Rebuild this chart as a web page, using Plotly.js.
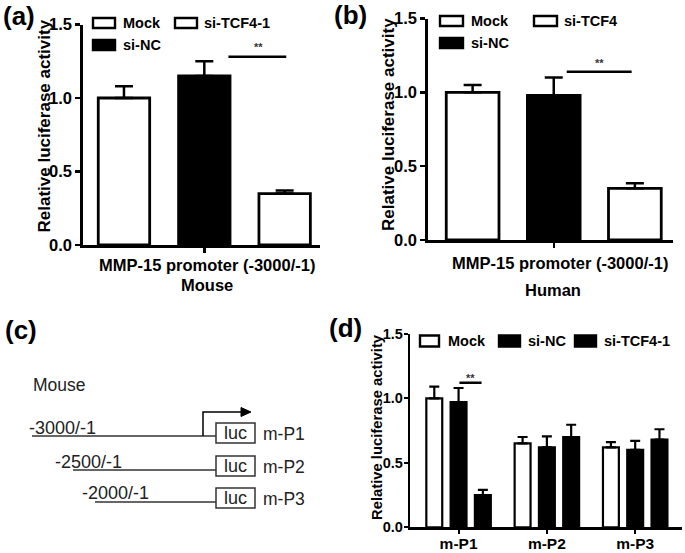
<!DOCTYPE html>
<html><head><meta charset="utf-8">
<script src="https://cdn.plot.ly/plotly-3.0.1.min.js"></script>
<style>html,body{margin:0;padding:0;background:#fff}</style>
</head><body><div id="chart" style="width:685px;height:553px"></div>
<script>
// ---------- data ----------
const mouseCats = ['Mock', 'si-NC', 'si-TCF4-1'];
const mouseVals = [1.00, 1.15, 0.35];
const mouseErr  = [0.08, 0.10, 0.02];

const humanCats = ['Mock', 'si-NC', 'si-TCF4'];
const humanVals = [1.00, 0.98, 0.35];
const humanErr  = [0.05, 0.12, 0.035];

const promoterCats = ['m-P1', 'm-P2', 'm-P3'];
const seriesD = ['Mock', 'si-NC', 'si-TCF4-1'];
const mockVals  = [1.00, 0.65, 0.62];
const mockErr   = [0.09, 0.05, 0.04];
const siNCVals  = [0.97, 0.62, 0.60];
const siNCErr   = [0.11, 0.085, 0.07];
const siTCFVals = [0.25, 0.70, 0.68];
const siTCFErr  = [0.04, 0.095, 0.08];

const yTickVals = [0, 0.5, 1.0, 1.5];

// significance brackets (axis units)
const sigA = {x0: 1.30, x1: 2.02, y: 1.28, tx: 1.68, ty: 1.35};
const sigB = {x0: 1.16, x1: 1.96, y: 1.14, tx: 1.57, ty: 1.20};
const sigD = {x0: 0.01, x1: 0.26, y: 1.12, tx: 0.135, ty: 1.16};

// diagram (c) labels
const constructs = ['-3000/-1', '-2500/-1', '-2000/-1'];
const constructNames = ['m-P1', 'm-P2', 'm-P3'];

// ---------- helpers ----------
const W = 685, H = 553;
const PX = x => x / W;
const PY = y => 1 - y / H;
const FONT = 'Liberation Sans, Arial, sans-serif';
const bold = (size, color) => ({family: FONT, size: size, color: color || 'black', weight: 'bold'});
const reg = (size, color) => ({family: FONT, size: size, color: color || '#222'});

// ---------- traces ----------
const traces = [];
traces.push({
  type: 'bar', x: mouseCats, y: mouseVals, xaxis: 'x', yaxis: 'y', width: 0.64,
  marker: {color: ['white', 'black', 'white'], line: {color: 'black', width: 2.8}},
  error_y: {type: 'data', symmetric: false, array: mouseErr, arrayminus: [0, 0, 0],
            color: 'black', thickness: 2.5, width: 9},
  showlegend: false, hoverinfo: 'skip'
});
traces.push({
  type: 'bar', x: humanCats, y: humanVals, xaxis: 'x2', yaxis: 'y2', width: 0.65,
  marker: {color: ['white', 'black', 'white'], line: {color: 'black', width: 2.8}},
  error_y: {type: 'data', symmetric: false, array: humanErr, arrayminus: [0, 0, 0],
            color: 'black', thickness: 2.5, width: 9},
  showlegend: false, hoverinfo: 'skip'
});
const dVals = [mockVals, siNCVals, siTCFVals];
const dErr = [mockErr, siNCErr, siTCFErr];
const dColors = ['white', 'black', 'black'];
seriesD.forEach((name, i) => {
  traces.push({
    type: 'bar', name: name, x: promoterCats, y: dVals[i], xaxis: 'x3', yaxis: 'y3',
    marker: {color: dColors[i], line: {color: 'black', width: 2.2}},
    error_y: {type: 'data', symmetric: false, array: dErr[i], arrayminus: [0, 0, 0],
              color: 'black', thickness: 2.2, width: 5},
    showlegend: false, hoverinfo: 'skip'
  });
});

// ---------- axes ----------
function xAx(domain, range, tickvals) {
  return {domain: domain, range: range, type: 'category', tickvals: tickvals,
    ticktext: tickvals.map(() => ''), ticks: 'outside', ticklen: 5, tickwidth: 2.5,
    tickcolor: 'black', showline: true, linewidth: 2.8, linecolor: 'black',
    showgrid: false, zeroline: false, fixedrange: true, tickfont: bold(16)};
}
function yAx(domain, fs) {
  return {domain: domain, range: [0, 1.5], tickvals: yTickVals, tickformat: '.1f',
    ticks: 'outside', ticklen: 5, tickwidth: 2.5, tickcolor: 'black',
    showline: true, linewidth: 2.8, linecolor: 'black', showgrid: false,
    zeroline: false, fixedrange: true, tickfont: bold(fs), ticklabelstandoff: 0};
}
const xaxis = xAx([PX(83), PX(320)], [-0.51, 2.44], ['si-NC']);
const yaxis = yAx([PY(245), PY(24.5)], 16.5);
yaxis.anchor = 'x'; xaxis.anchor = 'y';
const xaxis2 = xAx([PX(428), PX(673)], [-0.55, 2.47], ['si-NC']);
const yaxis2 = yAx([PY(240), PY(18.5)], 16.5);
xaxis2.anchor = 'y2'; yaxis2.anchor = 'x2';
const xaxis3 = xAx([PX(410), PX(682)], [-0.55, 2.53], promoterCats);
xaxis3.ticktext = promoterCats; xaxis3.ticklen = 4; xaxis3.tickwidth = 2; xaxis3.linewidth = 2.2;
xaxis3.tickfont = bold(15.5); xaxis3.ticklabelstandoff = -3;
const yaxis3 = yAx([PY(527.3), PY(333.8)], 14.5);
yaxis3.ticklen = 4; yaxis3.tickwidth = 2; yaxis3.linewidth = 2.2; yaxis3.ticklabelstandoff = -2;
xaxis3.anchor = 'y3'; yaxis3.anchor = 'x3';

// ---------- shapes & annotations ----------
const shapes = [];
const annotations = [];

function legendItem(x0, x1, yc, h, fill, label, tx, fs) {
  shapes.push({type: 'rect', xref: 'paper', yref: 'paper', x0: PX(x0), x1: PX(x1),
    y0: PY(yc + h / 2), y1: PY(yc - h / 2), fillcolor: fill, line: {color: 'black', width: 2.4}});
  annotations.push({xref: 'paper', yref: 'paper', x: PX(tx), y: PY(yc), xanchor: 'left',
    yanchor: 'middle', text: label, showarrow: false, font: bold(fs)});
}
// legend (a)
legendItem(93, 115, 23, 10, 'white', mouseCats[0], 121, 14.5);
legendItem(93, 115, 45, 10, 'black', mouseCats[1], 121, 14.5);
legendItem(175, 197, 23, 10, 'white', mouseCats[2], 202, 14.5);
// legend (b)
legendItem(440, 463, 21, 10, 'white', humanCats[0], 469, 14.5);
legendItem(440, 463, 43, 10, 'black', humanCats[1], 469, 14.5);
legendItem(534, 557, 21, 10, 'white', humanCats[2], 562, 14.5);
// legend (d)
legendItem(420, 439, 341, 11, dColors[0], seriesD[0], 446, 14.5);
legendItem(499, 520, 341, 11, dColors[1], seriesD[1], 526, 14.5);
legendItem(575, 596, 341, 11, dColors[2], seriesD[2], 602, 14.5);

// significance brackets
[[sigA, 'x', 'y'], [sigB, 'x2', 'y2'], [sigD, 'x3', 'y3']].forEach(([s, xr, yr]) => {
  shapes.push({type: 'line', xref: xr, yref: yr, x0: s.x0, x1: s.x1, y0: s.y, y1: s.y,
    line: {color: 'black', width: 2.5}});
  annotations.push({xref: xr, yref: yr, x: s.tx, y: s.ty, text: '**', showarrow: false,
    font: bold(11, '#333'), xanchor: 'center', yanchor: 'middle'});
});

// y titles
[[44, 126.5, 17], [388, 125, 17], [377, 427, 14.8]].forEach(([x, y, fs]) => {
  annotations.push({xref: 'paper', yref: 'paper', x: PX(x), y: PY(y), textangle: -90,
    text: 'Relative luciferase activity', showarrow: false, font: bold(fs),
    xanchor: 'center', yanchor: 'middle'});
});
// x titles
annotations.push({xref: 'paper', yref: 'paper', x: PX(207), y: PY(265), text: 'MMP-15 promoter (-3000/-1)',
  showarrow: false, font: bold(16.5), xanchor: 'center', yanchor: 'middle'});
annotations.push({xref: 'paper', yref: 'paper', x: PX(207), y: PY(285), text: 'Mouse',
  showarrow: false, font: bold(16.5), xanchor: 'center', yanchor: 'middle'});
annotations.push({xref: 'paper', yref: 'paper', x: PX(560), y: PY(263), text: 'MMP-15 promoter (-3000/-1)',
  showarrow: false, font: bold(16.5), xanchor: 'center', yanchor: 'middle'});
annotations.push({xref: 'paper', yref: 'paper', x: PX(553), y: PY(290), text: 'Human',
  showarrow: false, font: bold(16.5), xanchor: 'center', yanchor: 'middle'});

// panel labels
[['(a)', 19, 16], ['(b)', 350, 15], ['(c)', 21, 330], ['(d)', 345, 328]].forEach(([t, x, y]) => {
  annotations.push({xref: 'paper', yref: 'paper', x: PX(x), y: PY(y), text: t, showarrow: false,
    font: bold(26), xanchor: 'center', yanchor: 'middle'});
});

// diagram (c)
annotations.push({xref: 'paper', yref: 'paper', x: PX(31), y: PY(385), text: 'Mouse', showarrow: false,
  font: reg(17.5), xanchor: 'left', yanchor: 'middle'});
const lineStart = [32, 73, 95];
const lineY = [436, 470, 502];
const boxTop = [423, 456, 488];
const textX = [27, 53, 80];
const textY = [428, 462, 493];
for (let i = 0; i < 3; i++) {
  shapes.push({type: 'line', xref: 'paper', yref: 'paper', x0: PX(lineStart[i]), x1: PX(216),
    y0: PY(lineY[i]), y1: PY(lineY[i]), line: {color: '#333', width: 1.5}});
  shapes.push({type: 'rect', xref: 'paper', yref: 'paper', x0: PX(216), x1: PX(255),
    y0: PY(boxTop[i] + 20), y1: PY(boxTop[i]), fillcolor: 'white', line: {color: '#333', width: 1.5}});
  annotations.push({xref: 'paper', yref: 'paper', x: PX(235.5), y: PY(boxTop[i] + 10), text: 'luc',
    showarrow: false, font: reg(18), xanchor: 'center', yanchor: 'middle'});
  annotations.push({xref: 'paper', yref: 'paper', x: PX(261), y: PY(boxTop[i] + 11), text: constructNames[i],
    showarrow: false, font: reg(17.5), xanchor: 'left', yanchor: 'middle'});
  annotations.push({xref: 'paper', yref: 'paper', x: PX(textX[i]), y: PY(textY[i]), text: constructs[i],
    showarrow: false, font: reg(18), xanchor: 'left', yanchor: 'middle'});
}
// transcription start arrow
shapes.push({type: 'path', xref: 'paper', yref: 'paper',
  path: `M ${PX(203)} ${PY(436)} L ${PX(203)} ${PY(412)} L ${PX(243)} ${PY(412)}`,
  line: {color: 'black', width: 1.5}});
shapes.push({type: 'path', xref: 'paper', yref: 'paper',
  path: `M ${PX(241)} ${PY(407.5)} L ${PX(251)} ${PY(412)} L ${PX(241)} ${PY(416.5)} Z`,
  fillcolor: 'black', line: {color: 'black', width: 1}});

const layout = {
  width: W, height: H, margin: {l: 0, r: 0, t: 0, b: 0},
  paper_bgcolor: 'white', plot_bgcolor: 'rgba(0,0,0,0)',
  barmode: 'group', bargap: 0.175, bargroupgap: 0.345,
  showlegend: false,
  xaxis, yaxis, xaxis2, yaxis2, xaxis3, yaxis3,
  shapes, annotations,
  font: {family: FONT}
};
Plotly.newPlot('chart', traces, layout, {staticPlot: true, displayModeBar: false});
</script></body></html>
